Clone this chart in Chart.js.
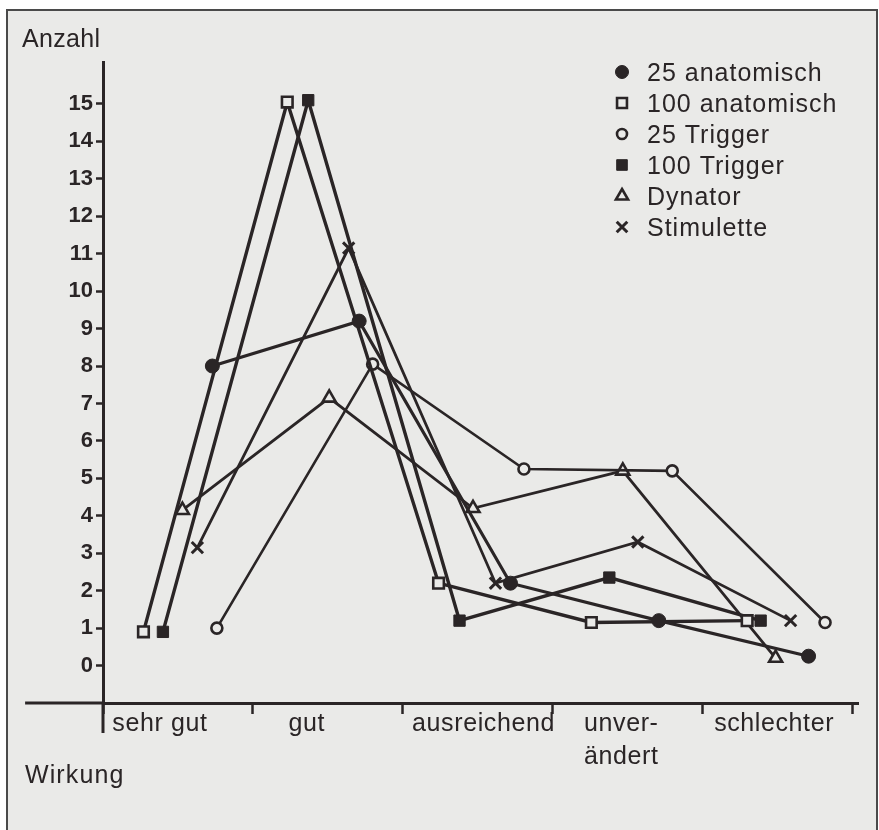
<!DOCTYPE html>
<html><head><meta charset="utf-8">
<script src="https://cdn.jsdelivr.net/npm/chart.js@4/dist/chart.umd.min.js"></script>
<style>html,body{margin:0;padding:0;background:#fff}canvas{display:block}</style>
</head><body>
<canvas id="c" width="879" height="830"></canvas>
<script>
// ---- data ----
const categories = ['sehr gut', 'gut', 'ausreichend', 'unver-\nändert', 'schlechter'];
const yTickValues = [0,1,2,3,4,5,6,7,8,9,10,11,12,13,14,15];
const xBoundaries = [0,1,2,3,4,5];
const seriesNames = ['25 anatomisch', '100 anatomisch', '25 Trigger', '100 Trigger', 'Dynator', 'Stimulette'];

const anat25X  = [0.73, 1.71, 2.72, 3.71, 4.71];
const anat25Y  = [8.0, 9.2, 2.2, 1.2, 0.25];
const anat100X = [0.27, 1.23, 2.24, 3.26, 4.30];
const anat100Y = [0.9, 15.05, 2.2, 1.15, 1.2];
const trig25X  = [0.76, 1.80, 2.81, 3.80, 4.82];
const trig25Y  = [1.0, 8.05, 5.25, 5.2, 1.15];
const trig100X = [0.40, 1.37, 2.38, 3.38, 4.39];
const trig100Y = [0.9, 15.1, 1.2, 2.35, 1.2];
const dynX     = [0.53, 1.51, 2.47, 3.47, 4.49];
const dynY     = [4.15, 7.15, 4.2, 5.2, 0.2];
const stimX    = [0.63, 1.64, 2.62, 3.57, 4.59];
const stimY    = [3.15, 11.15, 2.2, 3.3, 1.2];

// ---- style ----
const INK = '#2a2526';
const PAPER = '#eaeae8';
const FONT = '"Liberation Sans", Arial, sans-serif';
const labelShift = [-0.12, -0.14, 0.04, -0.04, -0.02];

function pts(xs, ys) { return xs.map((x, i) => ({x: x, y: ys[i]})); }

const styles = [
  {pointStyle: 'circle', radius: 7,   fill: INK,   bw: 1,   lw: 3.2},
  {pointStyle: 'rect',   radius: 7.5, fill: PAPER, bw: 2.6, lw: 3.4},
  {pointStyle: 'circle', radius: 5.5, fill: PAPER, bw: 2.6, lw: 2.6},
  {pointStyle: 'rect',   radius: 8,   fill: INK,   bw: 1,   lw: 3.4},
  {pointStyle: 'triangle', radius: 7.5, fill: PAPER, bw: 2.6, lw: 2.8},
  {pointStyle: 'crossRot', radius: 8, fill: PAPER, bw: 3, lw: 2.8}
];
const seriesData = [pts(anat25X, anat25Y), pts(anat100X, anat100Y), pts(trig25X, trig25Y),
                    pts(trig100X, trig100Y), pts(dynX, dynY), pts(stimX, stimY)];

const datasets = seriesNames.map((name, i) => ({
  label: name,
  data: seriesData[i],
  borderColor: INK,
  borderWidth: styles[i].lw,
  pointStyle: styles[i].pointStyle,
  pointRadius: styles[i].radius,
  pointBackgroundColor: styles[i].fill,
  pointBorderColor: INK,
  pointBorderWidth: styles[i].bw,
  tension: 0,
  fill: false,
  clip: false
}));

function spaced(ctx, px) { if ('letterSpacing' in ctx) ctx.letterSpacing = px + 'px'; }

const decor = {
  id: 'decor',
  beforeDraw(chart) {
    const ctx = chart.ctx;
    ctx.save();
    ctx.fillStyle = '#ffffff';
    ctx.fillRect(0, 0, chart.width, chart.height);
    ctx.fillStyle = PAPER;
    ctx.fillRect(7, 10, 870, 820);
    ctx.strokeStyle = '#4a4a4a';
    ctx.lineWidth = 2;
    ctx.beginPath();
    ctx.moveTo(7, 830); ctx.lineTo(7, 10); ctx.lineTo(877, 10); ctx.lineTo(877, 830);
    ctx.stroke();
    ctx.restore();
  },
  afterDraw(chart) {
    const ctx = chart.ctx;
    const xs = chart.scales.x;
    const area = chart.chartArea;
    ctx.save();
    ctx.strokeStyle = INK;
    ctx.lineWidth = 3;
    ctx.lineCap = 'butt';
    // x-axis line extends left of the y axis
    ctx.beginPath();
    ctx.moveTo(xs.getPixelForValue(-0.52), area.bottom);
    ctx.lineTo(area.left, area.bottom);
    ctx.stroke();
    // y-axis extends below the x axis
    ctx.beginPath();
    ctx.moveTo(area.left, area.bottom);
    ctx.lineTo(area.left, area.bottom + 30);
    ctx.stroke();

    ctx.fillStyle = INK;
    ctx.font = '25px ' + FONT;
    ctx.textBaseline = 'alphabetic';
    ctx.textAlign = 'left';
    spaced(ctx, 0.3);
    ctx.fillText('Anzahl', 22, 47);
    spaced(ctx, 1.1);
    ctx.fillText('Wirkung', 25, 783);

    // category labels
    spaced(ctx, 0.6);
    ctx.textAlign = 'center';
    categories.forEach((c, i) => {
      const px = xs.getPixelForValue(i + 0.5 + labelShift[i]);
      c.split('\n').forEach((line, j) => {
        ctx.fillText(line, px, area.bottom + 28 + j * 33);
      });
    });

    // legend
    spaced(ctx, 1);
    ctx.textAlign = 'left';
    chart.data.datasets.forEach((ds, i) => {
      const cy = 72 + i * 31;
      ctx.fillStyle = styles[i].fill;
      ctx.strokeStyle = INK;
      ctx.lineWidth = styles[i].bw;
      Chart.helpers.drawPoint(ctx, {pointStyle: ds.pointStyle, radius: styles[i].radius - 0.5, rotation: 0, borderWidth: styles[i].bw}, 622, cy);
      ctx.fillStyle = INK;
      ctx.fillText(ds.label, 647, cy + 9);
    });
    ctx.restore();
  }
};

new Chart(document.getElementById('c'), {
  type: 'line',
  data: {datasets: datasets},
  plugins: [decor],
  options: {
    responsive: false,
    animation: false,
    devicePixelRatio: 1,
    layout: {padding: {top: 62, right: 21, left: 0, bottom: 0}},
    plugins: {legend: {display: false}, tooltip: {enabled: false}},
    scales: {
      x: {
        type: 'linear', min: 0, max: 5.04,
        afterBuildTicks: s => { s.ticks = xBoundaries.map(v => ({value: v})); },
        afterFit: s => { s.height = 127; },
        ticks: {display: false},
        grid: {drawOnChartArea: false, drawTicks: true, tickLength: 11, tickWidth: 2.5, tickColor: INK},
        border: {display: true, width: 3, color: INK}
      },
      y: {
        type: 'linear', min: -1, max: 16.12,
        afterBuildTicks: s => { s.ticks = yTickValues.map(v => ({value: v})); },
        afterFit: s => { s.width = 103; },
        ticks: {color: INK, font: {family: FONT, size: 22, weight: 'bold'}, padding: 3},
        grid: {drawOnChartArea: false, drawTicks: true, tickLength: 7, tickWidth: 2.5, tickColor: INK},
        border: {display: true, width: 3, color: INK}
      }
    }
  }
});
</script>
</body></html>
